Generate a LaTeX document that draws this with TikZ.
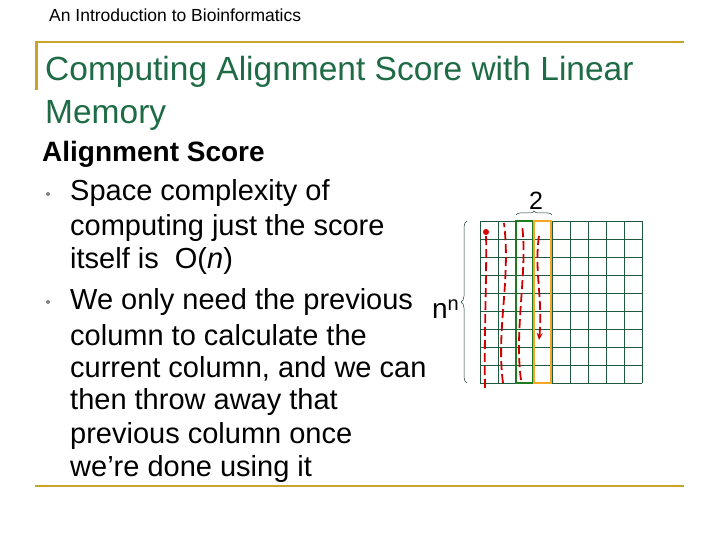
\documentclass[tikz,border=0pt]{standalone}
\usepackage{fontspec}
\setmainfont{Liberation Sans}
\usetikzlibrary{decorations.pathreplacing,arrows.meta}
\definecolor{gold}{HTML}{C8A42A}
\definecolor{ttl}{HTML}{1E6B45}
\definecolor{gridc}{HTML}{1F5A40}
\definecolor{orng}{HTML}{F5A623}
\definecolor{grn}{HTML}{1E7A1E}
\tikzset{body/.style={anchor=west,font=\fontsize{29}{29}\selectfont,inner sep=0},
 bul/.style={circle,fill=gray,inner sep=0,minimum size=4pt},
 red path/.style={red!80!black,line width=1.8pt,dash pattern=on 9pt off 4pt}}
\begin{document}
\begin{tikzpicture}[x=1pt,y=-1pt]
\useasboundingbox (0,0) rectangle (720,540);
\node[anchor=west,font=\fontsize{17.5}{17}\selectfont,inner sep=0] (hdr) at (49,15) {An Introduction to Bioinformatics};
\draw[gold,line width=2.5pt] (35,42) -- (684,42);
\draw[gold,line width=2.5pt] (36.5,42) -- (36.5,90);
\draw[gold,line width=2pt] (35,486) -- (684,486);
\node[anchor=west,font=\fontsize{33.5}{33}\selectfont,text=ttl,inner sep=0] (t1) at (45,72) {Computing Alignment Score with Linear};
\node[anchor=west,font=\fontsize{33.5}{33}\selectfont,text=ttl,inner sep=0] (t2) at (45,115) {Memory};
\node[anchor=west,font=\fontsize{28}{28}\selectfont\bfseries,inner sep=0] (h) at (42,154) {Alignment Score};
\node[bul] (b1) at (48,194) {};
\node[bul] (b2) at (48,302) {};
\node[body] (l1) at (70,193) {Space complexity of};
\node[body] (l2) at (70,228) {computing just the score};
\node[body] (l3) at (70,261) {itself is \ O(\textit{n})};
\node[body] (l4) at (70,302) {We only need the previous};
\node[body] (l5) at (70,335) {column to calculate the};
\node[body] (l6) at (70,369) {current column, and we can};
\node[body] (l7) at (70,402) {then throw away that};
\node[body] (l8) at (70,436) {previous column once};
\node[body] (l9) at (70,469) {we’re done using it};
% grid
\foreach \i in {0,...,9} {
  \draw[gridc,line width=0.7pt] (480+18*\i,221) -- (480+18*\i,383);
  \draw[gridc,line width=0.7pt] (480,221+18*\i) -- (642,221+18*\i);
}
\draw[red path] (485,388) .. controls (484,330) and (487,270) .. (486,234);
\fill[red!85!black] (486,232) circle (3);
\draw[red path] (503,383) .. controls (496,330) and (511,280) .. (504,223);
\draw[red path] (521,380) .. controls (514,330) and (528,270) .. (522,225);
\draw[red path,-{Stealth[length=7pt,width=6pt]}] (539,236) .. controls (534,270) and (543,300) .. (539,340);
\draw[grn,line width=2.5pt] (516,221) rectangle (533,383);
\draw[orng,line width=2.5pt] (534,221) rectangle (551,383);
\draw[gridc!70!black,line width=0.5pt,decorate,decoration={brace,amplitude=6pt}] (467,383) -- (467,221) coordinate[midway] (bm);
\node[anchor=east,font=\fontsize{28}{28}\selectfont,inner sep=0] (nn) at (459,309) {n\raisebox{0.3em}{\fontsize{20}{20}\selectfont n}};
\draw[gridc!70!black,line width=0.5pt,decorate,decoration={brace,amplitude=4pt}] (516,215) -- (552,215);
\node[font=\fontsize{25}{25}\selectfont,inner sep=0] (two) at (536,201) {2};
\end{tikzpicture}
\end{document}
